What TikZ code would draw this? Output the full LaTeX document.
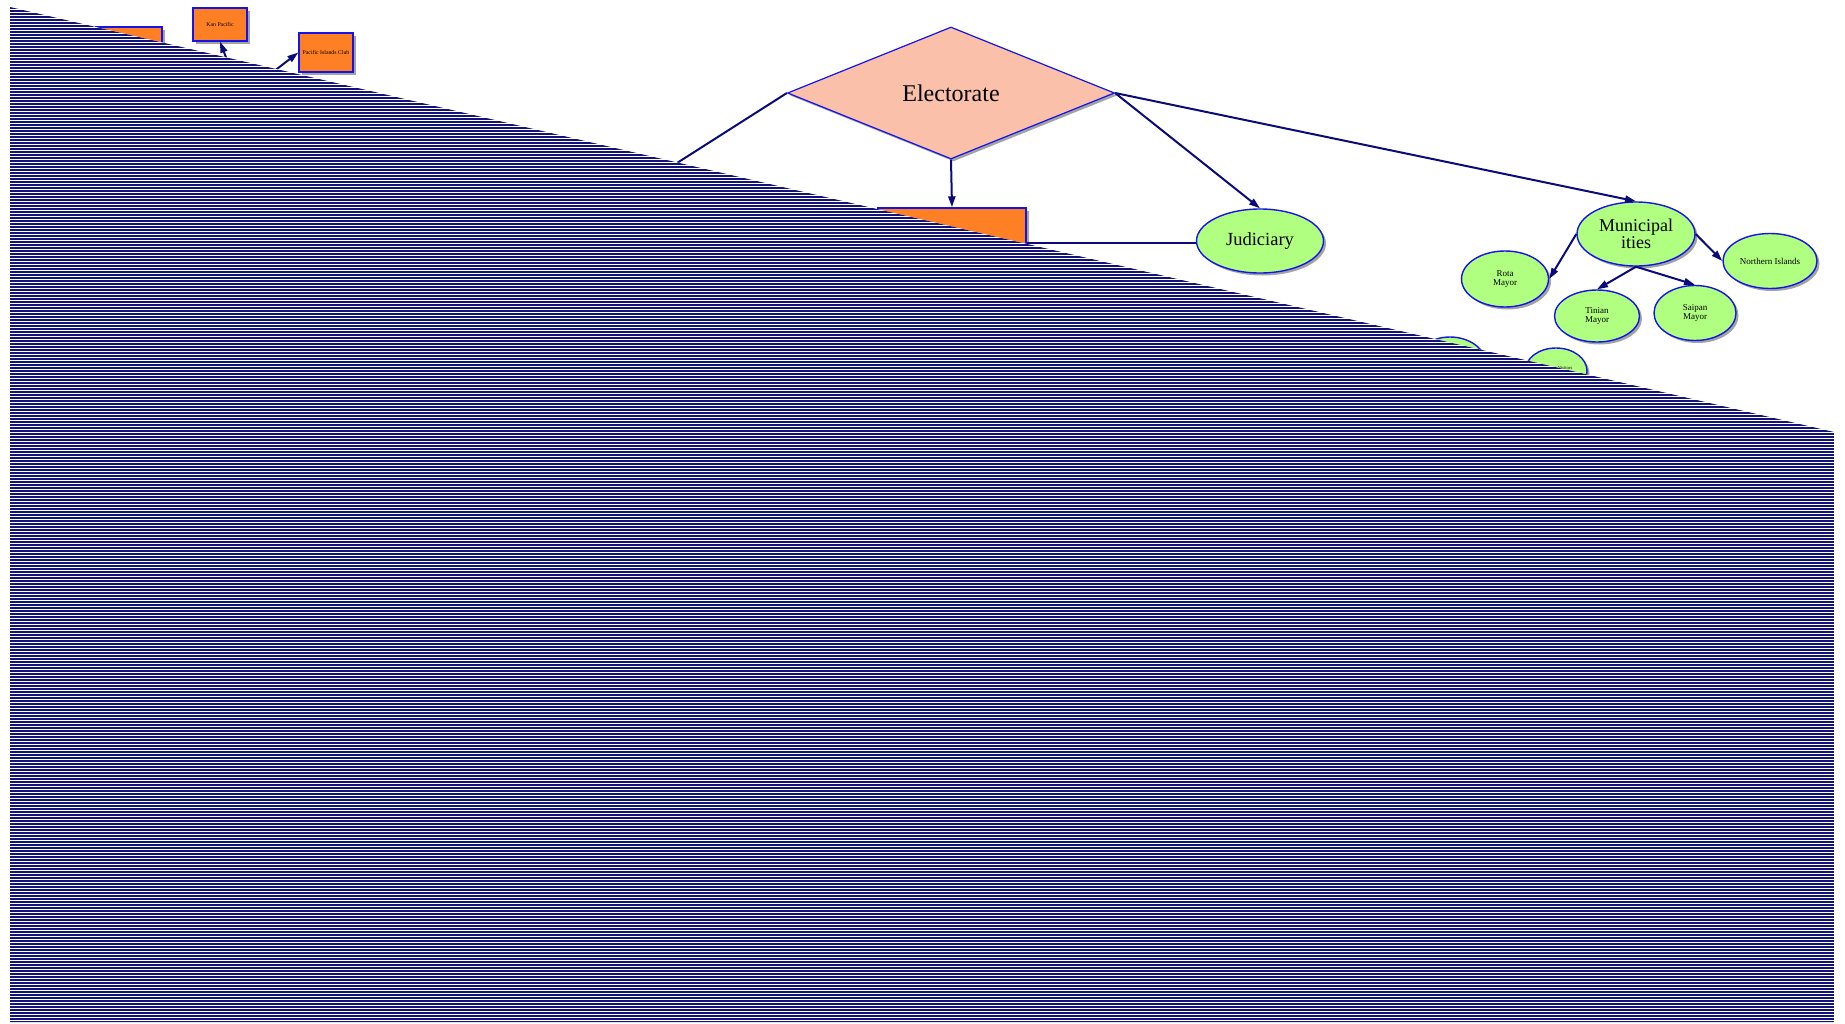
\documentclass[tikz,border=0pt]{standalone}
\usepackage{fontspec}
\setmainfont{Liberation Serif}
\usetikzlibrary{shapes.geometric,arrows.meta,shadows}
\definecolor{edgec}{RGB}{10,10,120}
\definecolor{bordc}{RGB}{20,20,230}
\definecolor{orangec}{RGB}{255,127,36}
\definecolor{greenc}{RGB}{176,255,128}
\definecolor{peachc}{RGB}{251,192,170}
\definecolor{hatchc}{RGB}{18,18,120}
\tikzset{
  shad/.style={drop shadow={shadow xshift=2.5pt,shadow yshift=-2.5pt,fill=black!45,opacity=0.8}},
  obox/.style={rectangle,draw=bordc,line width=1.4pt,fill=orangec,shad,inner sep=0pt,align=center},
  gell/.style={ellipse,draw=bordc,line width=1.4pt,fill=greenc,shad,inner sep=0pt,align=center},
  dia/.style={diamond,draw=bordc,line width=1.2pt,fill=peachc,shad,inner sep=0pt},
  edge/.style={draw=edgec,line width=2pt},
  arr/.style={edge,-{Triangle[length=11pt,width=7pt]}},
  hatch/.style={draw=hatchc,line width=1.9pt}
}
\begin{document}
\begin{tikzpicture}[x=1pt,y=-1pt]
\useasboundingbox (0,0) rectangle (1845,1023);
% nodes
\node[dia,minimum width=327pt,minimum height=132pt,font=\fontsize{24}{28}\selectfont] (elec) at (951,93) {Electorate};
\node[obox,minimum width=148pt,minimum height=70pt] (gov) at (952,243) {};
\node[gell,minimum width=127pt,minimum height=64pt,font=\fontsize{18.5}{20}\selectfont] (jud) at (1260,241) {Judiciary};
\node[gell,minimum width=118pt,minimum height=64pt,font=\fontsize{18}{17}\selectfont] (muni) at (1636,234) {Municipal\\ities};
\node[gell,minimum width=87pt,minimum height=56pt,font=\fontsize{9}{9.5}\selectfont] (rota) at (1505,279) {Rota\\Mayor};
\node[gell,minimum width=85pt,minimum height=52pt,font=\fontsize{9}{9.5}\selectfont] (tinian) at (1597,316) {Tinian\\Mayor};
\node[gell,minimum width=82pt,minimum height=55pt,font=\fontsize{9}{9.5}\selectfont] (saipan) at (1695,313) {Saipan\\Mayor};
\node[gell,minimum width=94pt,minimum height=55pt,font=\fontsize{9}{10}\selectfont] (north) at (1770,261) {Northern Islands};
\node[gell,minimum width=74pt,minimum height=58pt] (hid) at (1450,366) {};
\node[gell,minimum width=62pt,minimum height=46pt,font=\fontsize{4.6}{6}\selectfont] (mva) at (1556,371) {Marianas Visitors\\Authority};
\node[obox,minimum width=66pt,minimum height=39pt] (tl) at (129,46.5) {};
\node[obox,minimum width=54pt,minimum height=33pt,font=\fontsize{5.8}{7}\selectfont] (kan) at (220,24.5) {Kan Pacific};
\node[obox,minimum width=54pt,minimum height=39pt,font=\fontsize{5.8}{7}\selectfont] (pic) at (326,52.5) {Pacific Islands Club};
\coordinate (eleft) at (677,163);
\coordinate (kfrom) at (227,60);
\coordinate (pfrom) at (273,72);
% edges
\draw[edge] (elec.west) -- (eleft);
\draw[arr] (elec.south) -- (gov.north);
\draw[arr] (elec.east) -- (jud.north);
\draw[arr] (elec.east) -- (muni.north);
\draw[edge] (gov.east) -- (gov.east -| jud.west);
\draw[arr] (muni.west) -- (rota.east);
\draw[arr] (muni.east) -- (north.west);
\draw[arr] (muni.south) -- (tinian.north);
\draw[arr] (muni.south) -- (saipan.north);
\draw[arr] (kfrom) -- (kan.south);
\draw[arr] (pfrom) -- (pic.west);
% hatched overlay
\begin{scope}
\clip (10,7) -- (1834,432) -- (1834,1022) -- (10,1022) -- cycle;
\fill[white] (10,7) -- (1834,432) -- (1834,1022) -- (10,1022) -- cycle;
\foreach \y in {8,11,...,1022} \draw[hatch] (10,\y) -- (1834,\y);
\end{scope}
\end{tikzpicture}
\end{document}
